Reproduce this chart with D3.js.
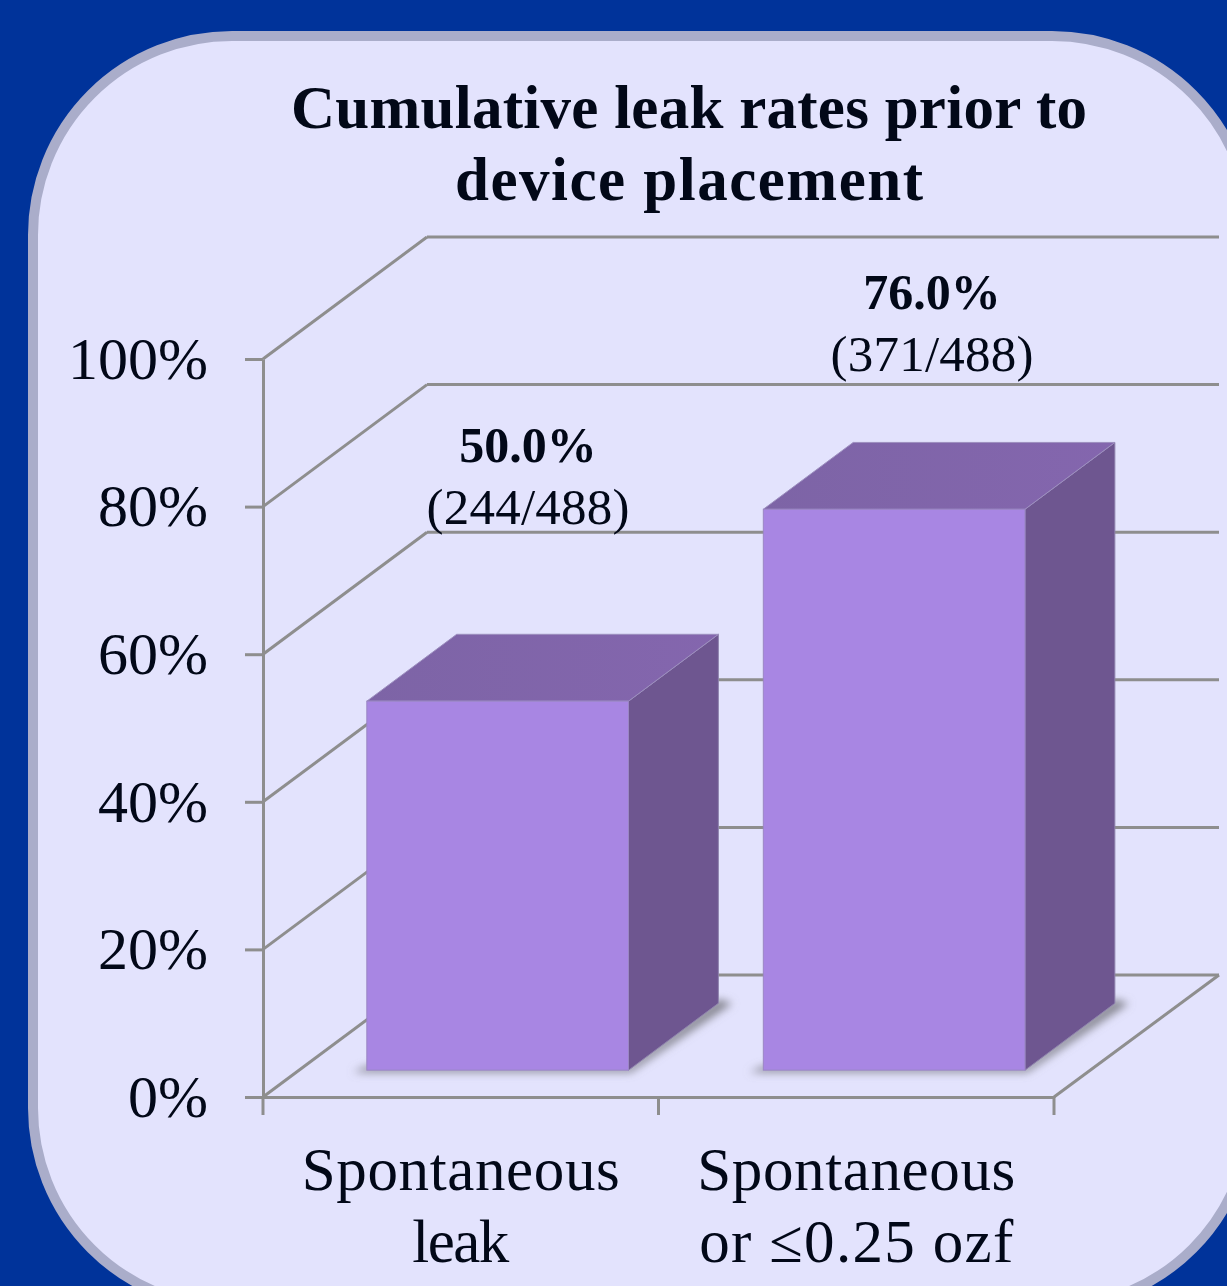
<html>
    <head>
        <script src="https://d3js.org/d3.v7.min.js"></script>
        <style>
            body { margin: 0; background: #00339a; }
            svg { display: block; }
            text { font-family: "Liberation Serif", serif; fill: #020818; }
            .axis .domain, .axis line, .wall line { stroke: #8e8e8e; stroke-width: 3; fill: none; }
            .axis text { font-family: "Liberation Serif", serif; fill: #020818; }
        </style>
    </head>
    <body>
        <div id="svg-area"></div>
        <script>
            const titleLines = ['Cumulative leak rates prior to', 'device placement'];
            const categories = ['Spontaneous|leak', 'Spontaneous|or \u22640.25 ozf'];
            const values = [50.0, 76.0];
            const percentLabels = ['50.0%', '76.0%'];
            const countLabels = ['(244/488)', '(371/488)'];
            const yTicks = [0, 20, 40, 60, 80, 100];

            const svg = d3.select('#svg-area')
                            .append('svg')
                            .attr('width', 1227)
                            .attr('height', 1286);

            const defs = svg.append('defs');
            defs.append('filter').attr('id', 'soft')
                .attr('x', '-20%').attr('y', '-20%').attr('width', '140%').attr('height', '140%')
                .append('feGaussianBlur').attr('stdDeviation', 4);
            const topGrad = defs.append('linearGradient').attr('id', 'topGrad');
            topGrad.append('stop').attr('offset', '0%').attr('stop-color', '#7d64a6');
            topGrad.append('stop').attr('offset', '100%').attr('stop-color', '#8466ae');

            // rounded panel
            svg.append('rect')
                .attr('x', 33).attr('y', 36)
                .attr('width', 1218).attr('height', 1271)
                .attr('rx', 199).attr('ry', 199)
                .attr('fill', '#e3e3fd')
                .attr('stroke', '#aaadca')
                .attr('stroke-width', 10);

            // line widths are forced because the Garamond of the original runs wider
            const titleWidths = [796, 468];
            const title = svg.append('text')
                .attr('text-anchor', 'middle')
                .style('font-weight', 'bold')
                .style('font-size', '61px');
            title.selectAll('tspan').data(titleLines).join('tspan')
                .attr('x', 689)
                .attr('y', (d, i) => 128 + i * 72)
                .attr('textLength', (d, i) => titleWidths[i])
                .text(d => d);

            const margins = { left: 263, right: 1054, top: 359, bottom: 1097 };
            const wallDx = 164, wallDy = -122;   // offset of the back wall
            const barDepth = 0.548;              // bar depth as share of the wall offset
            const barFront = 0.22;               // gap between front edge and bars

            const xScale = d3.scaleBand().domain(categories)
                .range([margins.left, margins.right])
                .paddingInner(0.34).paddingOuter(0.1675).align(0.51);
            const yScale = d3.scaleLinear().domain([0, 100]).range([margins.bottom, margins.top]);

            // back wall gridlines and the diagonals on the side wall
            const wall = svg.append('g').attr('class', 'wall');
            yTicks.forEach(t => {
                wall.append('line')
                    .attr('x1', margins.left).attr('y1', yScale(t))
                    .attr('x2', margins.left + wallDx).attr('y2', yScale(t) + wallDy);
                wall.append('line')
                    .attr('x1', margins.left + wallDx).attr('y1', yScale(t) + wallDy)
                    .attr('x2', margins.right + wallDx + 1).attr('y2', yScale(t) + wallDy);
            });
            wall.append('line')
                .attr('x1', margins.right).attr('y1', margins.bottom)
                .attr('x2', margins.right + wallDx + 1).attr('y2', margins.bottom + wallDy);

            // axes
            let leftAxis = d3.axisLeft(yScale)
                .tickValues(yTicks)
                .tickSize(18)
                .tickSizeOuter(0)
                .tickPadding(37)
                .tickFormat(d => d + '%');
            svg.append('g')
                .attr('class', 'y axis')
                .attr('transform', `translate(${margins.left},0)`)
                .call(leftAxis)
                .selectAll('text')
                .style('font-size', '60px')
                .attr('dy', '0.32em');

            let bottomAxis = d3.axisBottom(xScale)
                .tickSize(0)
                .tickPadding(0)
                .tickFormat('');
            const xAxis = svg.append('g')
                .attr('class', 'x axis')
                .attr('transform', `translate(0,${margins.bottom})`)
                .call(bottomAxis);
            xAxis.selectAll('.tick line').remove();
            // ticks sit between the categories, not on them
            [margins.left, (margins.left + margins.right) / 2, margins.right].forEach(x => {
                xAxis.append('line').attr('x1', x).attr('x2', x).attr('y1', 0).attr('y2', 18);
            });

            const catWidths = [[318, 97], [318, 314]];
            const catLabels = svg.append('g').attr('text-anchor', 'middle').style('font-size', '61px');
            categories.forEach((c, i) => {
                const centre = margins.left + (margins.right - margins.left) * (i + 0.5) / categories.length;
                c.split('|').forEach((line, j) => {
                    catLabels.append('text')
                        .attr('x', centre)
                        .attr('y', 1190 + j * 72)
                        .attr('textLength', catWidths[i][j])
                        .text(line);
                });
            });

            // bars
            const dx = wallDx * barDepth, dy = wallDy * barDepth;
            const frontDx = wallDx * barFront, frontDy = wallDy * barFront;
            const pts = a => a.map(p => p.join(',')).join(' ');

            values.forEach((v, i) => {
                const x0 = xScale(categories[i]) + frontDx;
                const x1 = x0 + xScale.bandwidth();
                const y0 = yScale(0) + frontDy;
                const y1 = yScale(v) + frontDy;
                const g = svg.append('g');

                // soft shadow on the floor
                g.append('polygon')
                    .attr('points', pts([[x0 - 14, y0 + 2], [x1 + 2, y0 + 2], [x1 + dx + 14, y0 + dy], [x1 + dx, y0 + dy - 4], [x1, y0 - 4], [x0, y0 - 4]]))
                    .attr('fill', '#85858f')
                    .attr('filter', 'url(#soft)');

                g.append('polygon')
                    .attr('points', pts([[x1, y0], [x1 + dx, y0 + dy], [x1 + dx, y1 + dy], [x1, y1]]))
                    .attr('fill', '#6e5690')
                    .attr('stroke', '#8f83ad').attr('stroke-width', 1);
                g.append('polygon')
                    .attr('points', pts([[x0, y1], [x1, y1], [x1 + dx, y1 + dy], [x0 + dx, y1 + dy]]))
                    .attr('fill', 'url(#topGrad)')
                    .attr('stroke', '#9d8fbf').attr('stroke-width', 1);
                g.append('rect')
                    .attr('x', x0).attr('y', y1)
                    .attr('width', x1 - x0).attr('height', y0 - y1)
                    .attr('fill', '#a886e3')
                    .attr('stroke', '#9a86c4').attr('stroke-width', 1);
            });

            // value labels above the bars
            const labelX = [528, 932];
            const percentY = [462, 309];
            const countY = [524, 371];
            values.forEach((v, i) => {
                svg.append('text')
                    .attr('x', labelX[i]).attr('y', percentY[i])
                    .attr('text-anchor', 'middle')
                    .style('font-weight', 'bold')
                    .style('font-size', '50px')
                    .text(percentLabels[i]);
                svg.append('text')
                    .attr('x', labelX[i]).attr('y', countY[i])
                    .attr('text-anchor', 'middle')
                    .style('font-size', '51px')
                    .attr('textLength', 203)
                    .text(countLabels[i]);
            });
        </script>
    </body>
</html>
